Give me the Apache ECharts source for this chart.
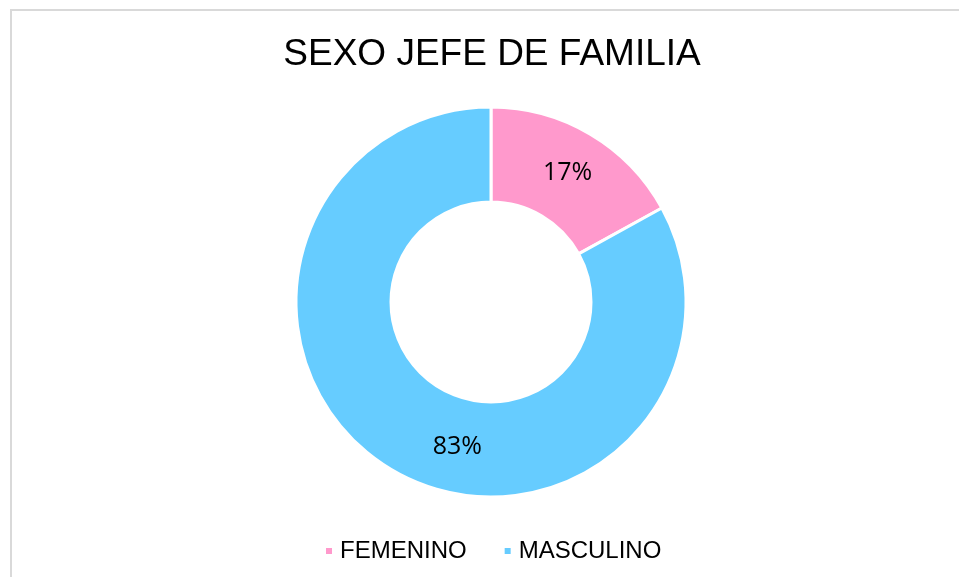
<!DOCTYPE html>
<html>
<head>
<meta charset="utf-8">
<script src="https://cdn.jsdelivr.net/npm/echarts@6/dist/echarts.min.js"></script>
<style>
html, body { margin: 0; padding: 0; background: #fff; }
#main { width: 959px; height: 577px; }
</style>
</head>
<body>
<div id="main"></div>
<script>
var categories = ['FEMENINO', 'MASCULINO'];
var values = [17, 83];
var colors = ['#ff99cc', '#66ccff'];

var dom = document.getElementById("main");
var myChart = echarts.init(dom);
var option = null;

var pieData = categories.map(function (name, i) {
    var item = { value: values[i], name: name, itemStyle: { color: colors[i] } };
    // Excel pushes the big slice's label toward the bottom
    if (i === 1) {
        item.label = { offset: [43, 15] };
    }
    return item;
});

option = {
    backgroundColor: '#fff',
    title: {
        text: 'SEXO JEFE DE FAMILIA',
        left: 487,
        textAlign: 'center',
        top: 31,
        textStyle: {
            fontFamily: 'Liberation Sans',
            fontSize: 37,
            fontWeight: 'normal',
            color: '#000'
        }
    },
    graphic: [
        {
            type: 'rect',
            shape: { x: 11, y: 10, width: 1000, height: 1000 },
            style: { fill: 'none', stroke: '#d9d9d9', lineWidth: 2 },
            silent: true
        }
    ],
    legend: {
        data: categories,
        left: 319,
        top: 534,
        icon: 'rect',
        itemWidth: 8,
        itemHeight: 8,
        itemGap: 36,
        textStyle: {
            fontFamily: 'Liberation Sans',
            fontSize: 24,
            color: '#000',
            padding: [0, 0, 0, 2]
        }
    },
    series: [
        {
            name: 'SEXO JEFE DE FAMILIA',
            type: 'pie',
            center: [491, 302],
            radius: [100, 195],
            startAngle: 90,
            clockwise: true,
            avoidLabelOverlap: false,
            itemStyle: {
                borderColor: '#fff',
                borderWidth: 3
            },
            label: {
                show: true,
                position: 'inside',
                formatter: '{d}%',
                fontFamily: 'Open Sans',
                fontSize: 25,
                color: '#000'
            },
            labelLine: { show: false },
            emphasis: { disabled: true },
            data: pieData
        }
    ]
};
if (option && typeof option === "object") {
    myChart.setOption(option, true);
}
</script>
</body>
</html>
